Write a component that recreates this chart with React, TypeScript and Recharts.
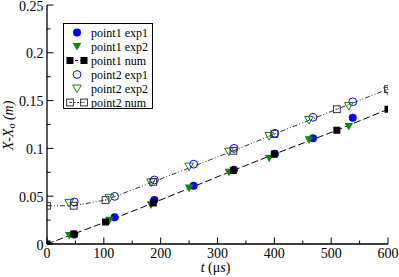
import React from 'react';
import { ComposedChart, Scatter, XAxis, YAxis, Legend } from 'recharts';

// ---- data ----
const numTimes = [0, 47, 103, 187, 328, 400, 510, 600];
const point1Num = [0, 0.0105, 0.023, 0.043, 0.077, 0.094, 0.119, 0.141];
const point2Num = [0.04, 0.04, 0.046, 0.065, 0.0975, 0.115, 0.141, 0.162];

const exp1Times = [48, 119, 189, 258, 329, 401, 468, 538];
const point1Exp1 = [0.0099, 0.028, 0.046, 0.061, 0.0776, 0.0945, 0.1106, 0.132];
const point2Exp1 = [0.044, 0.0498, 0.067, 0.0835, 0.1, 0.1158, 0.1325, 0.1488];

const exp2Times1 = [39, 110, 183, 250, 320, 391, 461, 531];
const point1Exp2 = [0.0089, 0.0248, 0.041, 0.0585, 0.075, 0.0898, 0.109, 0.123];
const exp2Times2 = [39, 110, 183, 250, 320, 391, 461, 531, 600];
const point2Exp2 = [0.043, 0.048, 0.0644, 0.081, 0.0967, 0.113, 0.1297, 0.1443, 0.16];

const xTicks = [0, 50, 100, 150, 200, 250, 300, 350, 400, 450, 500, 550, 600];
const yTicks = [0, 0.025, 0.05, 0.075, 0.1, 0.125, 0.15, 0.175, 0.2, 0.225, 0.25];
const seriesNames = ['point1 exp1', 'point1 exp2', 'point1 num', 'point2 exp1', 'point2 exp2', 'point2 num'];
const panelLabel = '(b2)';

const zip = (xs: number[], ys: number[]) => xs.map((x, i) => ({ x, y: ys[i] }));

const BLUE = '#0000ff';
const GREEN = '#0a8a0a';
const BLACK = '#000000';
const GREY = '#333333';
const FONT_STYLE = { fontFamily: "'Liberation Serif', 'DejaVu Serif', serif" };

// ---- marker shapes ----
const FilledCircle = (p: any) => <circle cx={p.cx} cy={p.cy} r={4} fill={BLUE} />;
const OpenCircle = (p: any) => <circle cx={p.cx} cy={p.cy} r={3.9} fill="none" stroke={BLUE} strokeWidth={1} />;
const triPts = (cx: number, cy: number) => `${cx - 4.3},${cy - 3.5} ${cx + 4.3},${cy - 3.5} ${cx},${cy + 4.1}`;
const FilledTri = (p: any) => <polygon points={triPts(p.cx, p.cy)} fill={GREEN} />;
const OpenTri = (p: any) => <polygon points={triPts(p.cx, p.cy)} fill="none" stroke={GREEN} strokeWidth={1} />;
const FilledSquare = (p: any) => <rect x={p.cx - 3.5} y={p.cy - 3.5} width={7} height={7} fill={BLACK} />;
const OpenSquare = (p: any) => (
  <g>
    <rect x={p.cx - 3.4} y={p.cy - 3.4} width={6.8} height={6.8} fill="none" stroke={GREY} strokeWidth={1} />
    <rect x={p.cx - 0.6} y={p.cy - 0.6} width={1.2} height={1.2} fill={GREY} />
  </g>
);

const isMajorX = (v: number) => Math.round(v) % 100 === 0;
const isMajorY = (v: number) => Math.round(v * 1000) % 50 === 0;
const MAJ = 6.5;
const MIN = 3.5;

const BottomTick = (props: any) => {
  const { x, y, payload } = props;
  const v = payload.value;
  const major = isMajorX(v);
  return (
    <g>
      <line x1={x} x2={x} y1={y} y2={y - (major ? MAJ : MIN)} stroke={BLACK} strokeWidth={1} />
      {major && (
        <text x={x} y={y + 14} textAnchor="middle" fontSize={14} style={FONT_STYLE} fill={BLACK}>
          {String(v)}
        </text>
      )}
    </g>
  );
};
const TopTick = (props: any) => {
  const { x, y, payload } = props;
  const major = isMajorX(payload.value);
  return <line x1={x} x2={x} y1={y} y2={y + (major ? MAJ : MIN)} stroke={BLACK} strokeWidth={1} />;
};
const LeftTick = (props: any) => {
  const { x, y, payload } = props;
  const v = payload.value;
  const major = isMajorY(v);
  return (
    <g>
      <line x1={x} x2={x + (major ? MAJ : MIN)} y1={y} y2={y} stroke={BLACK} strokeWidth={1} />
      {major && (
        <text x={x - 3.5} y={y + 1} textAnchor="end" dominantBaseline="central" fontSize={14} style={FONT_STYLE} fill={BLACK}>
          {String(v)}
        </text>
      )}
    </g>
  );
};
const RightTick = (props: any) => {
  const { x, y, payload } = props;
  const major = isMajorY(payload.value);
  return <line x1={x} x2={x - (major ? MAJ : MIN)} y1={y} y2={y} stroke={BLACK} strokeWidth={1} />;
};

const XLabel = (props: any) => {
  const vb = props.viewBox;
  return (
    <text x={vb.x + vb.width / 2 - 2} y={vb.y + 28} textAnchor="middle" fontSize={14} style={FONT_STYLE} fill={BLACK}>
      <tspan fontStyle="italic">t</tspan>
      <tspan> (μ</tspan>
      <tspan fontStyle="italic">s</tspan>
      <tspan>)</tspan>
    </text>
  );
};
const YLabel = (props: any) => {
  const vb = props.viewBox;
  const cx = 8;
  const cy = vb.y + vb.height / 2 + 1;
  return (
    <text
      x={cx}
      y={cy}
      transform={`rotate(-90 ${cx} ${cy})`}
      textAnchor="middle"
      dominantBaseline="central"
      fontSize={14}
      style={FONT_STYLE}
      fontStyle="italic"
      fill={BLACK}
    >
      <tspan>X-X</tspan>
      <tspan fontSize={10} dy={3}>o</tspan>
      <tspan dy={-3}> (m)</tspan>
    </text>
  );
};
const PanelLabel = (props: any) => {
  const vb = props.viewBox;
  return (
    <text x={vb.x + vb.width - 51} y={vb.y + 19} fontSize={14} style={FONT_STYLE} fill={BLACK}>
      {panelLabel}
    </text>
  );
};

const legendSymbols = [
  (cx: number, cy: number) => <FilledCircle cx={cx} cy={cy} />,
  (cx: number, cy: number) => <FilledTri cx={cx} cy={cy} />,
  (cx: number, cy: number) => (
    <g>
      <line x1={cx - 7} x2={cx + 7} y1={cy} y2={cy} stroke={BLACK} strokeDasharray="3 2" />
      <FilledSquare cx={cx - 7} cy={cy} />
      <FilledSquare cx={cx + 7} cy={cy} />
    </g>
  ),
  (cx: number, cy: number) => <OpenCircle cx={cx} cy={cy} />,
  (cx: number, cy: number) => <OpenTri cx={cx} cy={cy} />,
  (cx: number, cy: number) => (
    <g>
      <line x1={cx - 7} x2={cx + 7} y1={cy} y2={cy} stroke={GREY} strokeDasharray="2 1.5" />
      <OpenSquare cx={cx - 7} cy={cy} />
      <OpenSquare cx={cx + 7} cy={cy} />
    </g>
  ),
];

const LegendBox = () => (
  <svg width={90} height={86} style={{ display: 'block' }}>
    <rect x={0.5} y={0.5} width={89} height={85} fill="#fff" stroke={BLACK} strokeWidth={1} />
    {seriesNames.map((name, i) => {
      const cy = 9.5 + i * 14;
      return (
        <g key={name}>
          {legendSymbols[i](14, cy)}
          <text x={28} y={cy + 0.5} dominantBaseline="central" fontSize={12} style={FONT_STYLE} fill={BLACK}>
            {name}
          </text>
        </g>
      );
    })}
  </svg>
);

export default function App() {
  return (
    <div style={{ position: 'absolute', left: 0, top: 0, background: '#fff' }}>
      <ComposedChart width={399} height={277} margin={{ top: 5, right: 11, bottom: 0, left: 0 }}>
        <XAxis
          xAxisId="b"
          type="number"
          dataKey="x"
          domain={[0, 600]}
          ticks={xTicks}
          interval={0}
          height={33}
          tickSize={0}
          tickMargin={0}
          tickLine={false}
          tick={<BottomTick />}
          axisLine={{ stroke: BLACK, strokeWidth: 1.3 }}
          allowDataOverflow
          label={<XLabel />}
        />
        <XAxis
          xAxisId="t"
          orientation="top"
          type="number"
          dataKey="x"
          domain={[0, 600]}
          ticks={xTicks}
          interval={0}
          height={0}
          tickSize={0}
          tickMargin={0}
          tickLine={false}
          tick={<TopTick />}
          axisLine={{ stroke: BLACK, strokeWidth: 1.3 }}
          allowDataOverflow
          label={<PanelLabel />}
        />
        <YAxis
          yAxisId="l"
          type="number"
          dataKey="y"
          domain={[0, 0.25]}
          ticks={yTicks}
          interval={0}
          width={47}
          tickSize={0}
          tickMargin={0}
          tickLine={false}
          tick={<LeftTick />}
          axisLine={{ stroke: BLACK, strokeWidth: 1.3 }}
          allowDataOverflow
          label={<YLabel />}
        />
        <YAxis
          yAxisId="r"
          orientation="right"
          type="number"
          dataKey="y"
          domain={[0, 0.25]}
          ticks={yTicks}
          interval={0}
          width={0}
          tickSize={0}
          tickMargin={0}
          tickLine={false}
          tick={<RightTick />}
          axisLine={{ stroke: BLACK, strokeWidth: 1.3 }}
          allowDataOverflow
        />
        <Scatter
          name={seriesNames[2]}
          xAxisId="b"
          yAxisId="l"
          data={zip(numTimes, point1Num)}
          line={{ stroke: BLACK, strokeDasharray: '7 3', strokeWidth: 1 }}
          lineType="joint"
          shape={() => null}
          isAnimationActive={false}
        />
        <Scatter
          name={seriesNames[5]}
          xAxisId="b"
          yAxisId="l"
          data={zip(numTimes, point2Num)}
          line={{ stroke: GREY, strokeDasharray: '5 2 1 2 1 2', strokeWidth: 1 }}
          lineType="joint"
          shape={() => null}
          isAnimationActive={false}
        />
        <Scatter name={seriesNames[0]} xAxisId="b" yAxisId="l" data={zip(exp1Times, point1Exp1)} shape={FilledCircle} isAnimationActive={false} />
        <Scatter name={seriesNames[1]} xAxisId="b" yAxisId="l" data={zip(exp2Times1, point1Exp2)} shape={FilledTri} isAnimationActive={false} />
        <Scatter name={seriesNames[2] + ' pts'} xAxisId="b" yAxisId="l" data={zip(numTimes, point1Num)} shape={FilledSquare} isAnimationActive={false} />
        <Scatter name={seriesNames[3]} xAxisId="b" yAxisId="l" data={zip(exp1Times, point2Exp1)} shape={OpenCircle} isAnimationActive={false} />
        <Scatter name={seriesNames[4]} xAxisId="b" yAxisId="l" data={zip(exp2Times2, point2Exp2)} shape={OpenTri} isAnimationActive={false} />
        <Scatter name={seriesNames[5] + ' pts'} xAxisId="b" yAxisId="l" data={zip(numTimes, point2Num)} shape={OpenSquare} isAnimationActive={false} />
        <Legend
          layout="vertical"
          align="center"
          verticalAlign="middle"
          content={() => <LegendBox />}
          wrapperStyle={{ position: 'absolute', left: 63, top: 23, width: 90, height: 86 }}
        />
      </ComposedChart>
    </div>
  );
}
